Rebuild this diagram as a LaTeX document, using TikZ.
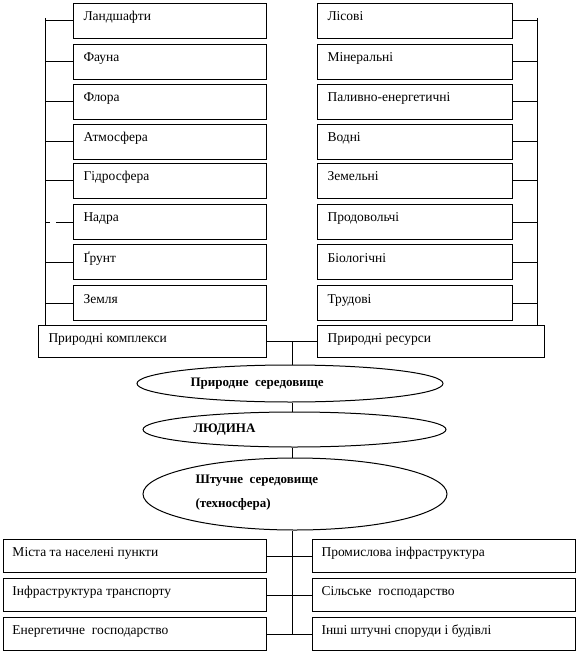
\documentclass[tikz,border=0pt]{standalone}
\usepackage{fontspec}
\setmainfont{Liberation Serif}
\usetikzlibrary{shapes.geometric,calc}
\begin{document}
\begin{tikzpicture}[x=1pt,y=-1pt, line width=1pt,
  box/.style={draw, rectangle, anchor=north west, inner sep=0pt},
  tbox/.style={box, minimum width=193pt, minimum height=35pt},
  rbox/.style={box, minimum width=195pt, minimum height=35pt},
  bbox/.style={box, minimum width=263pt, minimum height=33pt},
  lbl/.style={anchor=base west, inner sep=0pt, font=\fontsize{13.5}{16}\selectfont},
  blbl/.style={anchor=base west, inner sep=0pt, font=\fontsize{13}{16}\selectfont\bfseries},
  oval/.style={draw, ellipse, inner sep=0pt}]
\fill[white] (0,0) rectangle (578,652);
\useasboundingbox (0,0) rectangle (578,652);
% top left boxes
\foreach \t/\y/\i in {Ландшафти/3/1, Фауна/44/2, Флора/84/3, Атмосфера/124/4, Гідросфера/163/5, Надра/204/6, Ґрунт/244/7, Земля/285/8}{
  \node[tbox] (l\i) at (73,\y) {};
  \node[lbl] at (83,\y+18) {\t};
}
% top right boxes
\foreach \t/\y/\i in {Лісові/3/1, Мінеральні/44/2, Паливно-енергетичні/84/3, Водні/124/4, Земельні/163/5, Продовольчі/204/6, Біологічні/244/7, Трудові/285/8}{
  \node[rbox] (r\i) at (317,\y) {};
  \node[lbl] at (327,\y+18) {\t};
}
\node[box, minimum width=228pt, minimum height=32pt] (pk) at (38,325) {};
\node[lbl] at (48,342) {Природні комплекси};
\node[box, minimum width=227pt, minimum height=32pt] (pr) at (317,325) {};
\node[lbl] at (327,342) {Природні ресурси};
% buses
\coordinate (lb) at (45,18);
\coordinate (rb) at (537,18);
\draw (lb) -- (lb |- pk.north);
\draw (rb) -- (rb |- pr.north);
\foreach \i in {1,2,3,4,5,7,8}{
  \draw (l\i.west) -- (l\i.west -| lb);
}
\draw (l6.west) -- ++(-17,0);
\draw (l6.west -| lb) -- ++(5,0);
\foreach \i in {1,...,8}{
  \draw (r\i.east) -- (r\i.east -| rb);
}
% middle
\draw (pk.east) -- (pr.west);
\coordinate (m) at ($(pk.east)!0.5!(pr.west)$);
\node[oval, minimum width=306pt, minimum height=37pt] (e1) at (290,383.5) {};
\node[oval, minimum width=303pt, minimum height=35pt] (e2) at (294.5,429.5) {};
\node[oval, minimum width=304pt, minimum height=72pt] (e3) at (295,494) {};
\node[blbl] at (190,386) {Природне\ \ середовище};
\node[blbl] at (193,432) {ЛЮДИНА};
\node[blbl] at (195,483) {Штучне\ \ середовище};
\node[blbl] at (195,507) {(техносфера)};
\draw (m) -- (m |- e1.north);
\draw (m |- e1.south) -- (m |- e2.north);
\draw (m |- e2.south) -- (m |- e3.north);
% bottom boxes
\foreach \t/\y/\i in {Міста та населені пункти/539/1, Інфраструктура транспорту/578/2, Енергетичне\ \ господарство/617/3}{
  \node[bbox] (b\i) at (3,\y) {};
  \node[lbl] at (12,\y+17) {\t};
}
\foreach \t/\y/\i in {Промислова інфраструктура/539/1, Сільське\ \ господарство/578/2, Інші штучні споруди і будівлі/617/3}{
  \node[bbox] (c\i) at (312,\y) {};
  \node[lbl] at (321,\y+17) {\t};
}
\draw (m |- e3.south) -- (m |- b3.east);
\foreach \i in {1,2,3}{
  \draw (b\i.east) -- (c\i.west);
}
\end{tikzpicture}
\end{document}
